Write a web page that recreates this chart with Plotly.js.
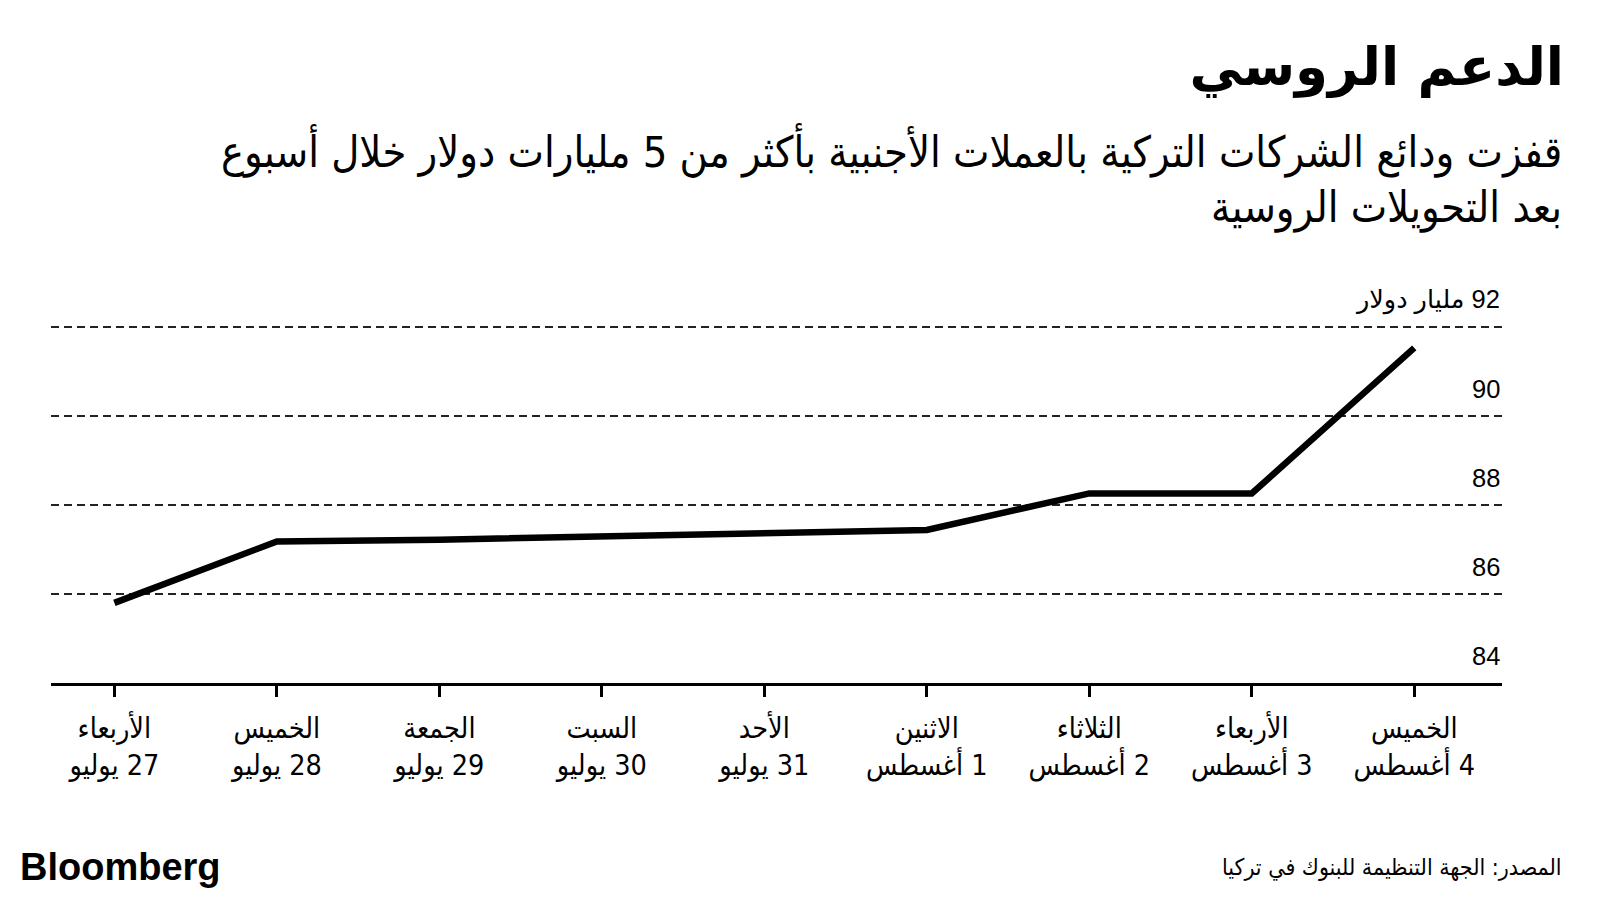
<!DOCTYPE html>
<html>
<head>
<meta charset="utf-8">
<script src="https://cdn.plot.ly/plotly-3.0.1.min.js"></script>
<style>
html,body{margin:0;padding:0;background:#fff;}
#chart{width:1600px;height:900px;}
</style>
</head>
<body>
<div id="chart"></div>
<script>
const RLM = '\u200F';
const dayNames = ['الأربعاء','الخميس','الجمعة','السبت','الأحد','الاثنين','الثلاثاء','الأربعاء','الخميس'];
const dateLabels = ['27 يوليو','28 يوليو','29 يوليو','30 يوليو','31 يوليو','1 أغسطس','2 أغسطس','3 أغسطس','4 أغسطس'];
const deposits = [85.8, 87.18, 87.22, 87.29, 87.36, 87.44, 88.26, 88.26, 91.53];
const yTickVals = [84, 86, 88, 90, 92];
const yTickText = ['84', '86', '88', '90', '92 مليار دولار'];

const titleText = 'الدعم الروسي';
const subtitleLine1 = 'قفزت ودائع الشركات التركية بالعملات الأجنبية بأكثر من 5 مليارات دولار خلال أسبوع';
const subtitleLine2 = 'بعد التحويلات الروسية';
const sourceText = 'المصدر: الجهة التنظيمة للبنوك في تركيا';

const xIdx = dayNames.map((d, i) => i);
const xTickText = dayNames.map((d, i) => RLM + d + '<br>' + RLM + dateLabels[i]);

const FONT = 'Liberation Sans, DejaVu Sans, sans-serif';
const AR = 'DejaVu Sans Condensed, DejaVu Sans, sans-serif';

const trace = {
  x: xIdx,
  y: deposits,
  type: 'scatter',
  mode: 'lines',
  line: {color: '#000', width: 6.5},
  hoverinfo: 'skip'
};

const L = 51, R = 1502, T = 325, B = 683;
const pw = R - L, ph = B - T;
const px = v => (v - L) / pw;
const py = v => (B - v) / ph;

// y tick labels sit above their gridlines, right-aligned at the plot's right edge
const yLabelAnns = yTickVals.map((v, i) => ({
  text: RLM + yTickText[i], xref: 'paper', yref: 'y', x: 1, y: v,
  xanchor: 'right', yanchor: 'middle', yshift: 27, showarrow: false,
  font: {family: FONT, size: 25.5, color: '#000'}
}));

const layout = {
  width: 1600, height: 900,
  paper_bgcolor: '#fff', plot_bgcolor: '#fff',
  margin: {l: L, r: 1600 - R, t: T, b: 900 - B, pad: 0},
  showlegend: false,
  font: {family: FONT, color: '#000'},
  title: {
    text: '<b>' + titleText + '</b>',
    xref: 'container', yref: 'container',
    x: 1564 / 1600, xanchor: 'right',
    y: 1 - 66 / 900, yanchor: 'middle',
    font: {family: 'DejaVu Sans, sans-serif', size: 53, color: '#000'}
  },
  xaxis: {
    range: [-0.39, 8.54],
    tickmode: 'array', tickvals: xIdx, ticktext: xTickText,
    ticks: 'outside', ticklen: 11, tickwidth: 3, tickcolor: '#000',
    ticklabelstandoff: 7,
    showline: true, linecolor: '#000', linewidth: 3,
    showgrid: false, zeroline: false,
    tickfont: {family: AR, size: 28.5, color: '#000'},
    fixedrange: true
  },
  yaxis: {
    range: [84, 92.045],
    side: 'right',
    tickmode: 'array', tickvals: yTickVals, ticktext: yTickText,
    showticklabels: false,
    ticks: '', showline: false, zeroline: false,
    showgrid: true, gridcolor: '#222', gridwidth: 1.2, griddash: '8px,5px',
    fixedrange: true
  },
  annotations: yLabelAnns.concat([
    {text: subtitleLine1, xref: 'paper', yref: 'paper', x: px(1564), y: py(150),
     xanchor: 'right', yanchor: 'middle', showarrow: false,
     font: {family: AR, size: 43, color: '#000'}},
    {text: subtitleLine2, xref: 'paper', yref: 'paper', x: px(1564), y: py(207),
     xanchor: 'right', yanchor: 'middle', showarrow: false,
     font: {family: AR, size: 43, color: '#000'}},
    {text: sourceText, xref: 'paper', yref: 'paper', x: px(1564), y: py(867),
     xanchor: 'right', yanchor: 'middle', showarrow: false,
     font: {family: AR, size: 23, color: '#000'}},
    {text: '<b>Bloomberg</b>', xref: 'paper', yref: 'paper', x: px(18), y: py(867),
     xanchor: 'left', yanchor: 'middle', showarrow: false,
     font: {family: 'Liberation Sans, Arial, sans-serif', size: 38, color: '#000'}}
  ])
};

Plotly.newPlot('chart', [trace], layout, {displayModeBar: false, staticPlot: true});
</script>
</body>
</html>
